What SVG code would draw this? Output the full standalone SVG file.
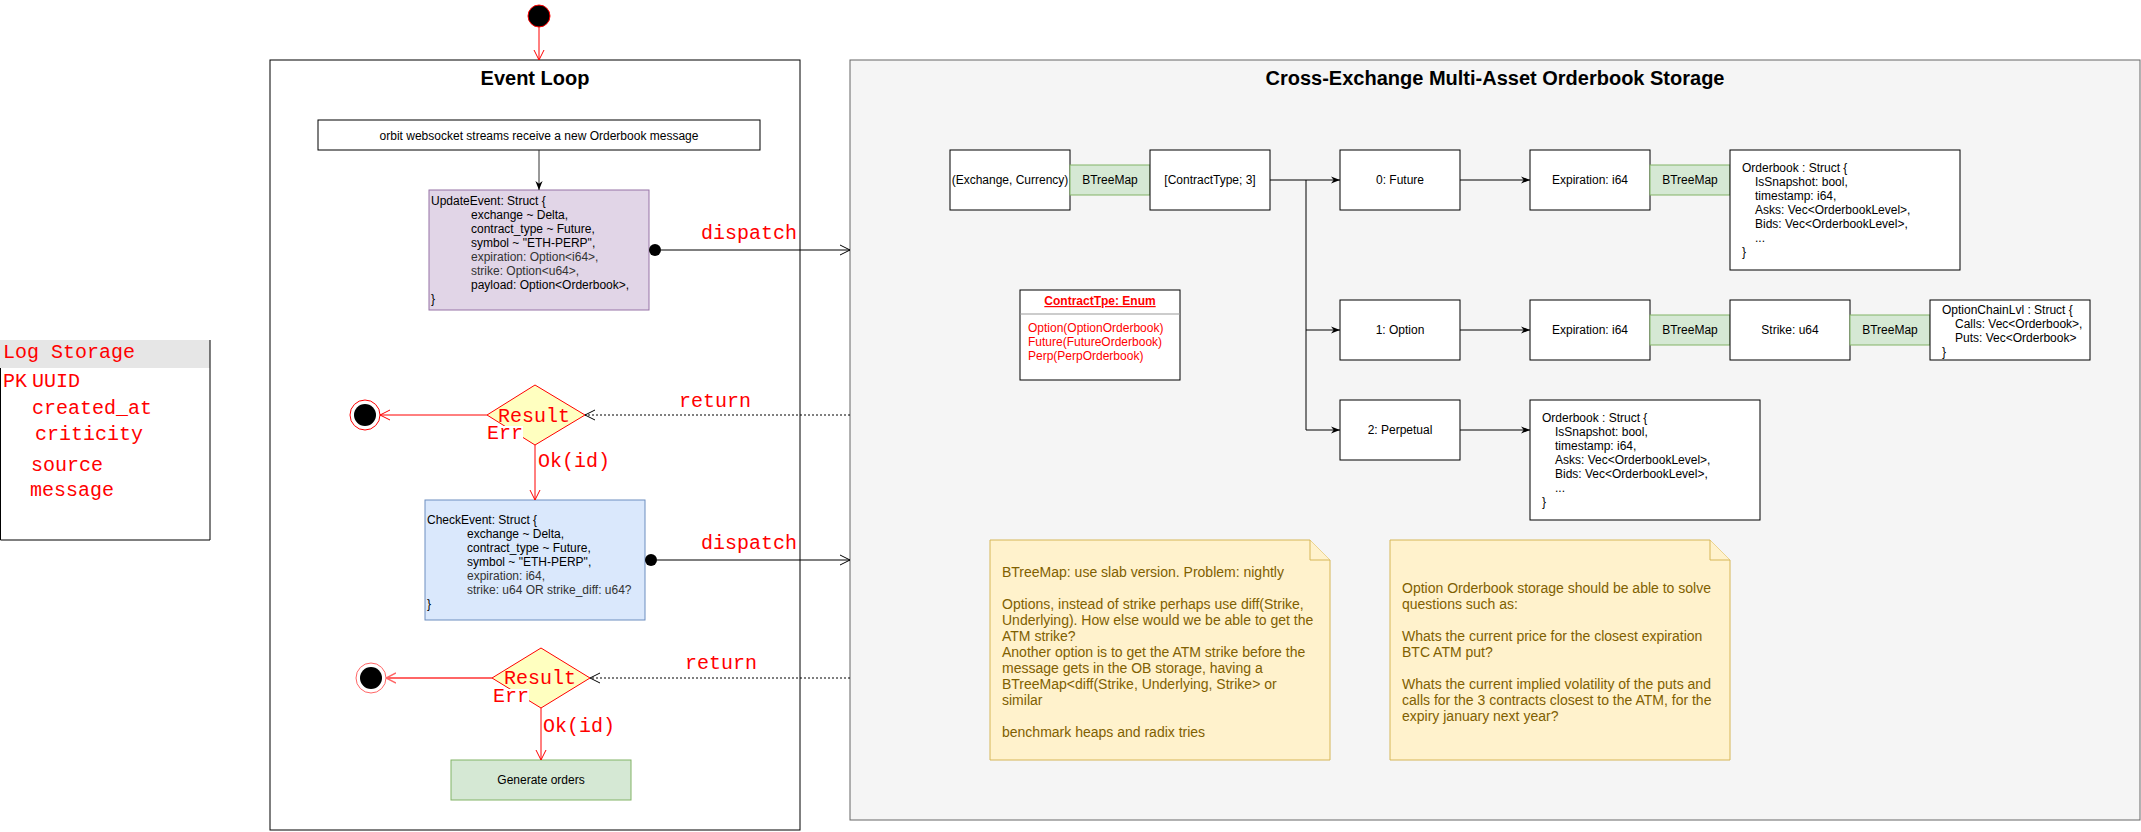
<svg xmlns="http://www.w3.org/2000/svg" width="2141" height="832" viewBox="0 0 2141 832">
<defs>
<style>
text{font-family:"Liberation Sans",Arial,Helvetica,sans-serif;font-size:12px;fill:#000}
.c{text-anchor:middle}
.h{font-weight:bold;font-size:20px}
.m{font-family:"Liberation Mono","Courier New",monospace;font-size:20px;fill:#ff0000}
.g{fill:#333}
.n{font-size:14px;fill:#7f6000}
.rd{fill:#ff0000}
.box{fill:#fff;stroke:#000;stroke-width:1}
.bt{fill:#d5e8d4;stroke:#82b366;stroke-width:1}
.e{fill:none;stroke:#000;stroke-width:1}
.r{fill:none;stroke:#ff0000;stroke-width:1}
.note{fill:#fff2cc;stroke:#d6b656;stroke-width:1}
.dia{fill:#ffffc0;stroke:#ff0000;stroke-width:1}
</style>
<marker id="oa" viewBox="0 0 10 12" refX="10" refY="6" markerWidth="10" markerHeight="12" markerUnits="userSpaceOnUse" orient="auto"><path d="M0,1 L10,6 L0,11" fill="none" stroke="#000" stroke-width="1"/></marker>
<marker id="oar" viewBox="0 0 10 12" refX="10" refY="6" markerWidth="10" markerHeight="12" markerUnits="userSpaceOnUse" orient="auto"><path d="M0,1 L10,6 L0,11" fill="none" stroke="#ff0000" stroke-width="1"/></marker>
<marker id="oal" viewBox="0 0 10 12" refX="10" refY="6" markerWidth="10" markerHeight="12" markerUnits="userSpaceOnUse" orient="auto"><path d="M0,1 L10,6 L0,11" fill="none" stroke="#ff6666" stroke-width="1.5"/></marker>
<marker id="ca" viewBox="0 0 10 8" refX="10" refY="4" markerWidth="9" markerHeight="7.2" markerUnits="userSpaceOnUse" orient="auto"><path d="M0,0 L10,4 L0,8 L3,4 Z" fill="#000"/></marker>
</defs>
<rect width="2141" height="832" fill="#fff"/>

<g id="start"><circle cx="539" cy="16" r="11" fill="#000" stroke="#ff0000" stroke-width="1"/></g>

<g id="event-loop">
<rect x="270" y="60" width="530" height="770" fill="#fff" stroke="#000"/>
<text x="535" y="85" class="h c">Event Loop</text>
</g>

<g id="storage">
<rect x="850" y="60" width="1290" height="760" fill="#f5f5f5" stroke="#666666"/>
<text x="1495" y="85" class="h c">Cross-Exchange Multi-Asset Orderbook Storage</text>
</g>

<g id="log-storage">
<rect x="0" y="340" width="210" height="28" fill="#e6e6e6"/>
<path d="M210,340 V540 H0.5 V368" fill="none" stroke="#000"/>
<text x="3" y="358" class="m">Log Storage</text>
<text x="3" y="387" class="m">PK</text>
<text x="32" y="387" class="m">UUID</text>
<text x="32" y="414" class="m">created_at</text>
<text x="35" y="440" class="m">criticity</text>
<text x="31" y="471" class="m">source</text>
<text x="30" y="496" class="m">message</text>
</g>

<g id="orbit">
<rect x="318" y="120" width="442" height="30" class="box"/>
<text x="539" y="140" class="c">orbit websocket streams receive a new Orderbook message</text>
</g>

<g id="update-event">
<rect x="429" y="190" width="220" height="120" fill="#e1d5e7" stroke="#9673a6"/>
<text x="431" y="205">UpdateEvent: Struct {</text>
<text x="471" y="219">exchange ~ Delta,</text>
<text x="471" y="233">contract_type ~ Future,</text>
<text x="471" y="247">symbol ~ "ETH-PERP",</text>
<text x="471" y="261" class="g">expiration: Option&lt;i64&gt;,</text>
<text x="471" y="275" class="g">strike: Option&lt;u64&gt;,</text>
<text x="471" y="289">payload: Option&lt;Orderbook&gt;,</text>
<text x="431" y="303">}</text>
</g>

<g id="result1">
<path d="M535,385 L585,415 L535,445 L487,415 Z" class="dia"/>
<text x="534" y="422" class="m c">Result</text>
</g>
<g id="end1">
<circle cx="365" cy="415" r="15" fill="#fff" stroke="#ff0000"/>
<circle cx="365" cy="415" r="11" fill="#000"/>
</g>

<g id="check-event">
<rect x="425" y="500" width="220" height="120" fill="#dae8fc" stroke="#6c8ebf"/>
<text x="427" y="524">CheckEvent: Struct {</text>
<text x="467" y="538">exchange ~ Delta,</text>
<text x="467" y="552">contract_type ~ Future,</text>
<text x="467" y="566">symbol ~ "ETH-PERP",</text>
<text x="467" y="580" class="g">expiration: i64,</text>
<text x="467" y="594" class="g">strike: u64 OR strike_diff: u64?</text>
<text x="427" y="608">}</text>
</g>

<g id="result2">
<path d="M541,648 L590,678 L541,708 L492,678 Z" class="dia"/>
<text x="540" y="684" class="m c">Result</text>
</g>
<g id="end2">
<circle cx="371" cy="678" r="15" fill="#fff" stroke="#ff6666"/>
<circle cx="371" cy="678" r="11" fill="#000"/>
</g>

<g id="generate-orders">
<rect x="451" y="760" width="180" height="40" fill="#d5e8d4" stroke="#82b366"/>
<text x="541" y="784" class="c">Generate orders</text>
</g>

<g id="exchange-currency">
<rect x="950" y="150" width="120" height="60" class="box"/>
<text x="1010" y="184" class="c">(Exchange, Currency)</text>
</g>
<g id="btreemap1">
<rect x="1070" y="165" width="80" height="30" class="bt"/>
<text x="1110" y="184" class="c">BTreeMap</text>
</g>
<g id="contracttype-array">
<rect x="1150" y="150" width="120" height="60" class="box"/>
<text x="1210" y="184" class="c">[ContractType; 3]</text>
</g>
<g id="future">
<rect x="1340" y="150" width="120" height="60" class="box"/>
<text x="1400" y="184" class="c">0: Future</text>
</g>
<g id="option">
<rect x="1340" y="300" width="120" height="60" class="box"/>
<text x="1400" y="334" class="c">1: Option</text>
</g>
<g id="perpetual">
<rect x="1340" y="400" width="120" height="60" class="box"/>
<text x="1400" y="434" class="c">2: Perpetual</text>
</g>

<g id="contracttpe-enum">
<rect x="1020" y="290" width="160" height="90" class="box"/>
<line x1="1020" y1="314" x2="1180" y2="314" stroke="#999"/>
<text x="1100" y="305" class="c rd" font-weight="bold" text-decoration="underline">ContractTpe: Enum</text>
<text x="1028" y="332" class="rd">Option(OptionOrderbook)</text>
<text x="1028" y="346" class="rd">Future(FutureOrderbook)</text>
<text x="1028" y="360" class="rd">Perp(PerpOrderbook)</text>
</g>

<g id="expiration-future">
<rect x="1530" y="150" width="120" height="60" class="box"/>
<text x="1590" y="184" class="c">Expiration: i64</text>
</g>
<g id="btreemap2">
<rect x="1650" y="165" width="80" height="30" class="bt"/>
<text x="1690" y="184" class="c">BTreeMap</text>
</g>
<g id="orderbook-future">
<rect x="1730" y="150" width="230" height="120" class="box"/>
<text x="1742" y="172">Orderbook : Struct {</text>
<text x="1755" y="186">IsSnapshot: bool,</text>
<text x="1755" y="200">timestamp: i64,</text>
<text x="1755" y="214">Asks: Vec&lt;OrderbookLevel&gt;,</text>
<text x="1755" y="228">Bids: Vec&lt;OrderbookLevel&gt;,</text>
<text x="1755" y="242">...</text>
<text x="1742" y="256">}</text>
</g>

<g id="expiration-option">
<rect x="1530" y="300" width="120" height="60" class="box"/>
<text x="1590" y="334" class="c">Expiration: i64</text>
</g>
<g id="btreemap3">
<rect x="1650" y="315" width="80" height="30" class="bt"/>
<text x="1690" y="334" class="c">BTreeMap</text>
</g>
<g id="strike">
<rect x="1730" y="300" width="120" height="60" class="box"/>
<text x="1790" y="334" class="c">Strike: u64</text>
</g>
<g id="btreemap4">
<rect x="1850" y="315" width="80" height="30" class="bt"/>
<text x="1890" y="334" class="c">BTreeMap</text>
</g>
<g id="option-chain">
<rect x="1930" y="300" width="160" height="60" class="box"/>
<text x="1942" y="314">OptionChainLvl : Struct {</text>
<text x="1955" y="328">Calls: Vec&lt;Orderbook&gt;,</text>
<text x="1955" y="342">Puts: Vec&lt;Orderbook&gt;</text>
<text x="1942" y="356">}</text>
</g>

<g id="orderbook-perp">
<rect x="1530" y="400" width="230" height="120" class="box"/>
<text x="1542" y="422">Orderbook : Struct {</text>
<text x="1555" y="436">IsSnapshot: bool,</text>
<text x="1555" y="450">timestamp: i64,</text>
<text x="1555" y="464">Asks: Vec&lt;OrderbookLevel&gt;,</text>
<text x="1555" y="478">Bids: Vec&lt;OrderbookLevel&gt;,</text>
<text x="1555" y="492">...</text>
<text x="1542" y="506">}</text>
</g>

<g id="note1">
<path d="M990,540 H1310 L1330,560 V760 H990 Z" class="note"/>
<path d="M1310,540 V560 H1330" class="note"/>
<text x="1002" y="577" class="n">BTreeMap: use slab version. Problem: nightly</text>
<text x="1002" y="609" class="n">Options, instead of strike perhaps use diff(Strike,</text>
<text x="1002" y="625" class="n">Underlying). How else would we be able to get the</text>
<text x="1002" y="641" class="n">ATM strike?</text>
<text x="1002" y="657" class="n">Another option is to get the ATM strike before the</text>
<text x="1002" y="673" class="n">message gets in the OB storage, having a</text>
<text x="1002" y="689" class="n">BTreeMap&lt;diff(Strike, Underlying, Strike&gt; or</text>
<text x="1002" y="705" class="n">similar</text>
<text x="1002" y="737" class="n">benchmark heaps and radix tries</text>
</g>

<g id="note2">
<path d="M1390,540 H1710 L1730,560 V760 H1390 Z" class="note"/>
<path d="M1710,540 V560 H1730" class="note"/>
<text x="1402" y="593" class="n">Option Orderbook storage should be able to solve</text>
<text x="1402" y="609" class="n">questions such as:</text>
<text x="1402" y="641" class="n">Whats the current price for the closest expiration</text>
<text x="1402" y="657" class="n">BTC ATM put?</text>
<text x="1402" y="689" class="n">Whats the current implied volatility of the puts and</text>
<text x="1402" y="705" class="n">calls for the 3 contracts closest to the ATM, for the</text>
<text x="1402" y="721" class="n">expiry january next year?</text>
</g>

<g id="connectors">
<line x1="539" y1="27" x2="539" y2="60" class="r" marker-end="url(#oar)"/>
<line x1="539" y1="150" x2="539" y2="190" stroke="#333" marker-end="url(#ca)"/>

<circle cx="655" cy="250" r="6" fill="#000"/>
<line x1="661" y1="250" x2="850" y2="250" class="e" marker-end="url(#oa)"/>
<text x="701" y="239" class="m">dispatch</text>

<line x1="850" y1="415" x2="585" y2="415" class="e" stroke-dasharray="2,2" marker-end="url(#oa)"/>
<text x="679" y="407" class="m">return</text>

<line x1="487" y1="415" x2="380" y2="415" class="r" marker-end="url(#oar)"/>
<rect x="486" y="426" width="37" height="17" fill="#fff"/>
<text x="487" y="439" class="m">Err</text>

<line x1="535" y1="445" x2="535" y2="500" class="r" marker-end="url(#oar)"/>
<text x="538" y="467" class="m">Ok(id)</text>

<circle cx="651" cy="560" r="6" fill="#000"/>
<line x1="657" y1="560" x2="850" y2="560" class="e" marker-end="url(#oa)"/>
<text x="701" y="549" class="m">dispatch</text>

<line x1="850" y1="678" x2="590" y2="678" class="e" stroke-dasharray="2,2" marker-end="url(#oa)"/>
<text x="685" y="669" class="m">return</text>

<line x1="492" y1="678" x2="386" y2="678" fill="none" stroke="#ff6666" stroke-width="2" marker-end="url(#oal)"/>
<rect x="492" y="689" width="37" height="17" fill="#fff"/>
<text x="493" y="702" class="m">Err</text>

<line x1="541" y1="708" x2="541" y2="760" class="r" marker-end="url(#oar)"/>
<text x="543" y="732" class="m">Ok(id)</text>

<line x1="1270" y1="180" x2="1340" y2="180" class="e" marker-end="url(#ca)"/>
<path d="M1306,180 V430 H1340" class="e" marker-end="url(#ca)"/>
<line x1="1306" y1="330" x2="1340" y2="330" class="e" marker-end="url(#ca)"/>
<line x1="1460" y1="180" x2="1530" y2="180" class="e" marker-end="url(#ca)"/>
<line x1="1460" y1="330" x2="1530" y2="330" class="e" marker-end="url(#ca)"/>
<line x1="1460" y1="430" x2="1530" y2="430" class="e" marker-end="url(#ca)"/>
</g>
</svg>
